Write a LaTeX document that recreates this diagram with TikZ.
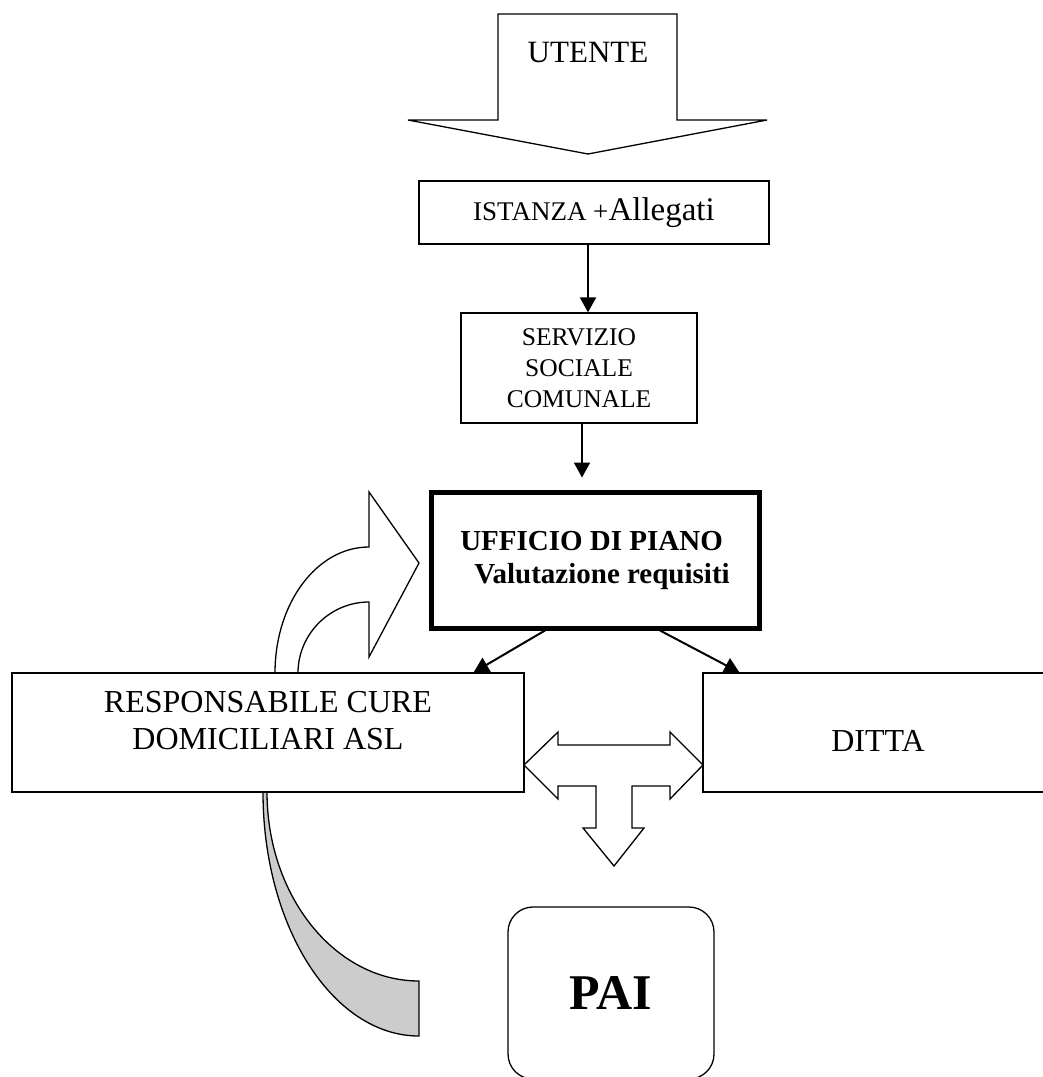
\documentclass[tikz,border=0pt]{standalone}
\usepackage{fontspec}
\setmainfont{Liberation Serif}
\usepackage{tikz}
\usetikzlibrary{calc,arrows.meta}
\definecolor{ink}{HTML}{000000}
\definecolor{shade}{HTML}{CCCCCC}
\tikzset{
  box/.style={draw=ink, line width=1.3pt, fill=white, inner sep=0pt},
  bigbox/.style={box, line width=5pt},
  conn/.style={draw=ink, line width=2pt, -{Triangle[length=15pt,width=16pt]}},
  fat/.style={draw=ink, line width=1.3pt, fill=white, line join=miter},
  curl/.style={draw=ink, line width=1.3pt, fill=shade},
  lab/.style={text=ink, font=\fontsize{32}{37}\selectfont, align=center},
  labs/.style={text=ink, font=\fontsize{25.5}{31}\selectfont, align=center},
  labb/.style={text=ink, font=\bfseries\fontsize{29}{33}\selectfont, align=left},
}

\begin{document}
\begin{tikzpicture}[x=1pt,y=-1pt]
  \useasboundingbox (0,0) rectangle (1043,1077);

  % user arrow at the top
  \draw[fat] (498,14) -- (677,14) -- (677,120) -- (767,120) -- (588,154) -- (408,120) -- (498,120) -- cycle;
  \node[lab,font=\fontsize{31}{36}\selectfont,anchor=base] (utente) at (588,62) {UTENTE};

  \node[box,lab,font=\fontsize{33}{38}\selectfont,minimum width=350pt,minimum height=63pt] (istanza) at (594,212.5)
    {{\fontsize{27}{31}\selectfont ISTANZA +}Allegati};
  \node[box,labs,minimum width=236pt,minimum height=110pt] (servizio) at (579,368)
    {SERVIZIO\\SOCIALE\\COMUNALE};
  \node[bigbox,labb,minimum width=328pt,minimum height=136pt] (ufficio) at (595,560)
    {UFFICIO DI PIANO\\\hspace*{14pt}Valutazione requisiti};

  % feedback arrows
  \draw[curl] (263,792) .. controls (263,927) and (333,1036) .. (419,1036) -- (419,981)
    .. controls (335,981) and (267,896) .. (267,792) -- cycle;
  \draw[fat] (275,673) .. controls (275,603) and (317,547) .. (369,547) -- (369,492) -- (419,563)
    -- (369,657) -- (369,602) .. controls (330,602) and (298,634) .. (298,673) -- cycle;

  \node[box,minimum width=512pt,minimum height=119pt] (resp) at (268,732.5) {};
  \node[lab] (respt) at (268,721) {RESPONSABILE CURE\\DOMICILIARI ASL};
  \node[box,minimum width=345pt,minimum height=119pt] (ditta) at (875.5,732.5) {};
  \node[lab] (dittat) at (878,741) {DITTA};

  % three-way block arrow
  \draw[fat] (524,765) -- (558,732) -- (558,745) -- (670,745) -- (670,732) -- (703,765) -- (670,799)
    -- (670,786) -- (632,786) -- (632,828) -- (644,828) -- (614,866) -- (583,828) -- (596,828)
    -- (596,786) -- (558,786) -- (558,799) -- cycle;

  \node[box,rounded corners=25pt,minimum width=206pt,minimum height=172pt,
    font=\bfseries\fontsize{50}{56}\selectfont] (pai) at (611,993) {PAI};

  \draw[conn] ([xshift=-6pt]istanza.south) -- ([xshift=9pt]servizio.north);
  \draw[conn,shorten >=12pt] ([xshift=3pt]servizio.south) -- ([xshift=-13pt]ufficio.north);
  \draw[conn] ([xshift=-50pt]ufficio.south) -- ([xshift=-51pt]resp.north east);
  \draw[conn] ([xshift=65pt]ufficio.south) -- ([xshift=37pt]ditta.north west);
\end{tikzpicture}
\end{document}
